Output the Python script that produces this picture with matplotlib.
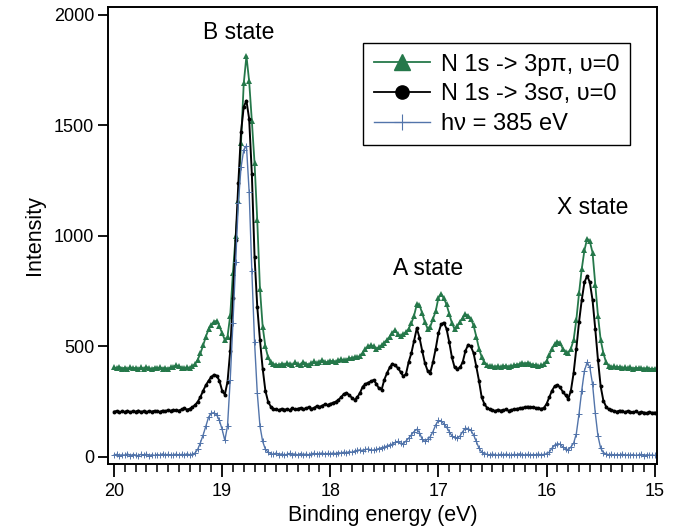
import numpy as np
import matplotlib
matplotlib.use("Agg")
from matplotlib import pyplot as plt
from matplotlib.ticker import MultipleLocator

plt.rcParams['font.family'] = ['Liberation Sans', 'DejaVu Sans']

# binding energy grid, 20.0 -> 15.0 eV in 0.025 eV steps (201 points)
energy = np.round(np.arange(20.0, 14.9999, -0.025), 3)

# N 1s -> 3p pi, v=0 (offset spectrum)
pi_state = [
    405, 402, 408, 400, 404, 398, 406, 401,
    403, 399, 405, 400, 407, 402, 398, 404,
    401, 406, 400, 403, 399, 405, 408, 415,
    410, 404, 402, 406, 403, 410, 420, 440,
    470, 505, 545, 578, 598, 612, 616, 592,
    560, 530, 545, 640, 833, 1000, 1160, 1420,
    1690, 1815, 1700, 1520, 1330, 1070, 760, 590,
    500, 450, 428, 420, 418, 415, 422, 418,
    425, 420, 415, 428, 420, 418, 430, 422,
    418, 425, 432, 424, 428, 440, 428, 430,
    432, 436, 430, 438, 442, 438, 440, 446,
    448, 452, 450, 458, 472, 488, 500, 506,
    500, 490, 496, 506, 516, 530, 545, 562,
    575, 555, 548, 555, 565, 580, 605, 640,
    690, 688, 650, 610, 580, 590, 625, 660,
    720, 738, 718, 690, 648, 605, 578, 592,
    612, 630, 645, 640, 625, 595, 545, 490,
    452, 428, 415, 412, 410, 408, 412, 406,
    410, 413, 408, 411, 415, 418, 420, 425,
    422, 426, 420, 418, 415, 412, 414, 420,
    435, 460, 490, 510, 522, 515, 490, 475,
    470, 490, 530, 620, 740, 850, 935, 988,
    975, 925, 780, 640, 530, 470, 428, 412,
    408, 410, 405, 408, 403, 406, 402, 405,
    400, 404, 401, 403, 399, 402, 400, 398,
    400,
]

# N 1s -> 3s sigma, v=0 (offset spectrum)
sigma_state = [
    205, 208, 202, 206, 204, 209, 203, 207,
    205, 210, 204, 207, 202, 208, 205, 209,
    206, 204, 210, 207, 212, 209, 213, 211,
    210, 215, 220, 214, 218, 225, 235, 250,
    272, 300, 325, 345, 362, 372, 368, 345,
    300, 282, 340, 480, 720, 980, 1238, 1470,
    1585, 1612, 1530, 1280, 906, 680, 529, 400,
    300, 250, 228, 218, 215, 212, 218, 214,
    216, 212, 220, 215, 218, 222, 216, 220,
    225, 218, 222, 230, 226, 232, 238, 235,
    240, 245, 250, 258, 270, 285, 290, 280,
    268, 258, 270, 290, 318, 330, 336, 342,
    348, 332, 310, 305, 350, 380, 405, 422,
    415, 402, 385, 365, 375, 430, 470, 525,
    582, 540, 480, 425, 390, 382, 430, 490,
    560, 600, 608, 580, 520, 450, 405, 398,
    405, 430, 480, 508, 500, 470, 410, 345,
    270, 240, 222, 215, 212, 208, 214, 210,
    212, 215, 209, 213, 216, 218, 220, 222,
    225, 228, 224, 226, 222, 220, 218, 222,
    240, 270, 300, 320, 326, 315, 295, 280,
    262, 300, 380, 490, 610, 710, 790, 820,
    790, 710, 580, 440, 320, 255, 228, 215,
    212, 208, 205, 210, 206, 203, 208, 204,
    202, 206, 200, 204, 201, 199, 203, 200,
    201,
]

# h nu = 385 eV
hv385 = [
    8, 12, 5, 10, 7, 14, 6, 11,
    9, 5, 12, 8, 13, 6, 10, 7,
    11, 8, 14, 9, 12, 7, 10, 13,
    8, 12, 9, 14, 10, 12, 18, 35,
    65, 100, 140, 180, 198, 200, 190, 165,
    125, 75, 140, 350, 605, 880, 1150, 1310,
    1390, 1408, 1200, 840, 520, 290, 140, 70,
    35, 22, 15, 12, 18, 10, 14, 9,
    12, 16, 10, 14, 9, 15, 11, 13,
    10, 14, 17, 12, 15, 18, 13, 16,
    14, 18, 15, 20, 17, 22, 19, 24,
    21, 26, 30, 32, 28, 34, 36, 32,
    30, 34, 38, 42, 45, 50, 54, 58,
    66, 70, 62, 60, 72, 85, 100, 115,
    125, 110, 80, 70, 80, 92, 115, 145,
    165, 162, 150, 135, 115, 95, 88, 85,
    95, 115, 130, 128, 120, 100, 70, 40,
    22, 15, 12, 9, 13, 10, 8, 12,
    9, 13, 10, 8, 12, 10, 14, 11,
    9, 12, 8, 11, 10, 13, 9, 12,
    14, 22, 40, 52, 60, 58, 45, 38,
    32, 45, 62, 105, 195, 300, 390, 428,
    405, 330, 200, 95, 40, 20, 14, 10,
    12, 8, 11, 9, 13, 7, 10, 8,
    11, 7, 9, 12, 6, 10, 8, 9,
    7,
]

labels = ['N 1s -> 3p\u03c0, \u03c5=0', 'N 1s -> 3s\u03c3, \u03c5=0', 'h\u03bd = 385 eV']
states = [('B state', 18.85, 1920), ('A state', 17.10, 855), ('X state', 15.57, 1127)]

green = '#25784a'
blue = '#5274aa'

fig = plt.figure(figsize=(6.81, 5.32), dpi=100)
ax = fig.add_axes([0.1586, 0.1278, 0.806, 0.859])

ax.plot(energy, pi_state, '-^', color=green, lw=1.3, ms=3.8, mew=0)
ax.plot(energy, sigma_state, '-o', color='black', lw=1.4, ms=2.8, mew=0)
ax.plot(energy, hv385, '-+', color=blue, lw=1.0, ms=4.5, mew=0.7)

# legend handles with bigger markers
h1, = ax.plot([], [], '-^', color=green, lw=1.3, ms=11)
h2, = ax.plot([], [], '-o', color='black', lw=1.3, ms=9.5)
h3, = ax.plot([], [], '-+', color=blue, lw=1.0, ms=12, mew=0.8)
leg = ax.legend([h1, h2, h3], labels, loc='upper right', bbox_to_anchor=(0.951, 0.921),
                borderaxespad=0, fontsize=17, fancybox=False, framealpha=1,
                edgecolor='black', handlelength=2.4, handletextpad=0.45,
                borderpad=0.45, labelspacing=0.32)
leg.get_frame().set_linewidth(1.0)

for txt, x, y in states:
    ax.text(x, y, txt, fontsize=16.5, ha='center', va='center')

ax.set_xlim(20.055, 14.98)
ax.set_ylim(-32, 2036)
ax.xaxis.set_major_locator(MultipleLocator(1))
ax.xaxis.set_minor_locator(MultipleLocator(0.1))
ax.yaxis.set_major_locator(MultipleLocator(500))
ax.tick_params(axis='x', which='major', direction='out', length=9, width=1.3, labelsize=13, pad=5)
ax.tick_params(axis='x', which='minor', direction='out', length=6, width=1.1)
ax.tick_params(axis='y', which='major', direction='out', length=7, width=1.3, labelsize=13, pad=3)
for s in ax.spines.values():
    s.set_linewidth(1.4)

ax.set_xlabel('Binding energy (eV)', fontsize=15.5, labelpad=3)
ax.set_ylabel('Intensity', fontsize=15.5, labelpad=6)

fig.savefig('out.png', dpi=100)
